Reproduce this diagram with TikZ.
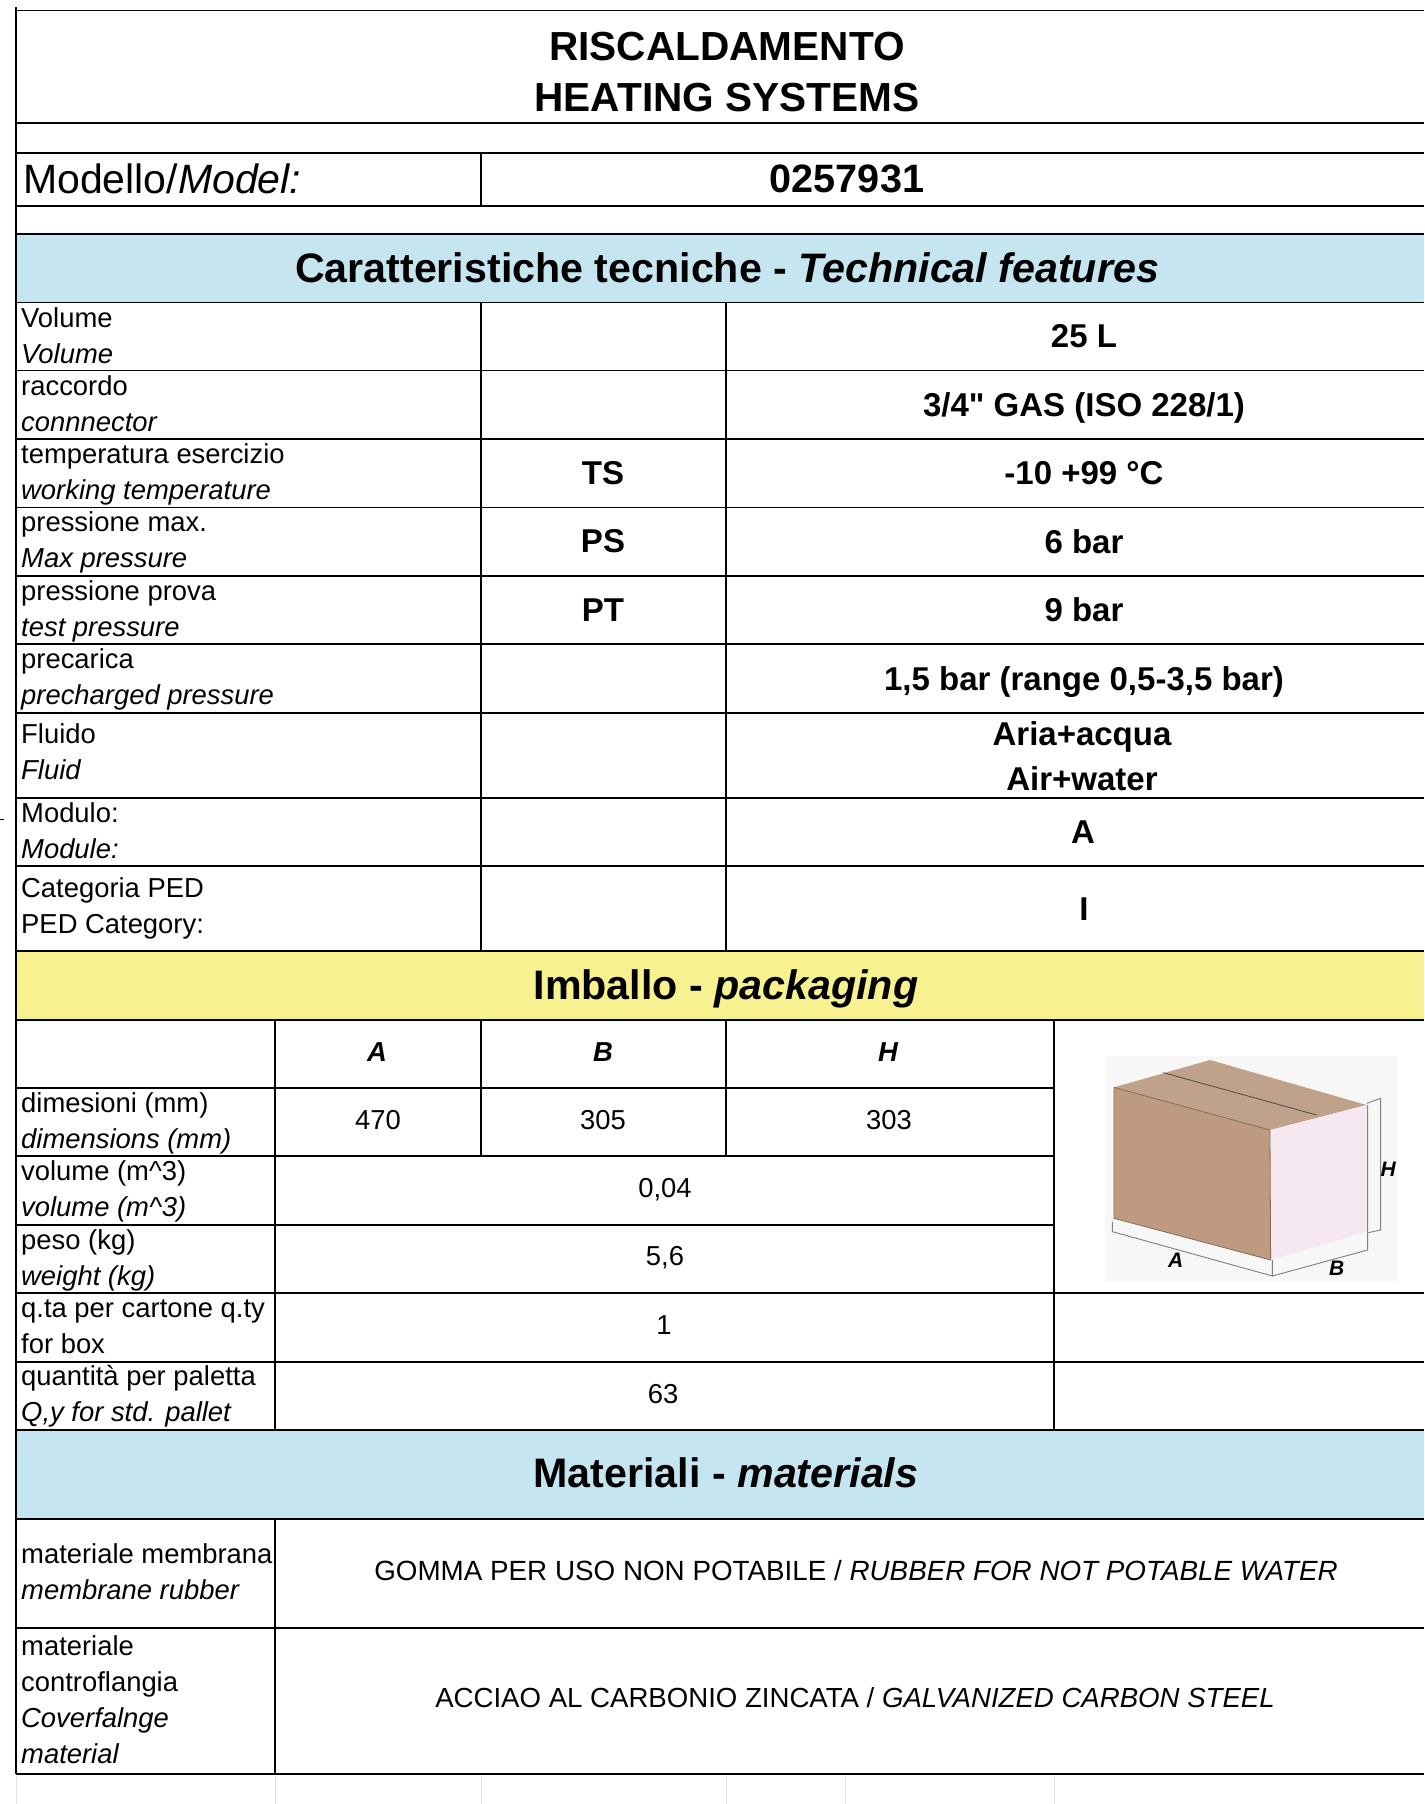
\documentclass[tikz,border=0pt]{standalone}
\usepackage{fontspec}
\setmainfont[Ligatures=TeXOff]{Liberation Sans}
\definecolor{headblue}{HTML}{C5E6F0}
\definecolor{headyellow}{HTML}{F7F18F}
\definecolor{boxfront}{HTML}{BD9A80}
\definecolor{boxtop}{HTML}{C0A28C}
\definecolor{boxside}{HTML}{F6E8F1}
\definecolor{boxback}{HTML}{F7F7F7}
\tikzset{
  rowlbl/.style={anchor=west,align=left,inner sep=0pt,font=\fontsize{27.4}{36}\selectfont},
  plainval/.style={anchor=center,align=center,inner sep=0pt,font=\fontsize{27.4}{36}\selectfont},
  wideval/.style={anchor=center,inner sep=0pt,font=\fontsize{27.8}{36}\selectfont},
  boldval/.style={anchor=center,align=center,inner sep=0pt,font=\bfseries\fontsize{33}{45}\selectfont},
  headval/.style={anchor=center,inner sep=0pt,font=\bfseries\itshape\fontsize{27.4}{36}\selectfont},
  sectitle/.style={anchor=center,inner sep=0pt,font=\bfseries\fontsize{41.2}{50}\selectfont},
  boxlbl/.style={anchor=center,inner sep=0pt,font=\bfseries\itshape\fontsize{21}{21}\selectfont},
  gridline/.style={line width=1.8pt,black},
  ghostline/.style={line width=1pt,black!12},
  dimline/.style={line width=0.9pt,black!50}
}
\begin{document}
\begin{tikzpicture}[x=1pt,y=-1pt]
            \useasboundingbox (0,0) rectangle (1424,1804);

            % coloured bands
            \fill[headblue] (16,235) rectangle (1424,302);
            \fill[headyellow] (16,951) rectangle (1424,1020);
            \fill[headblue] (16,1430) rectangle (1424,1519);

            % table rules
            \draw[gridline] (16,10.5) -- (1424,10.5)  (16,123) -- (1424,123)  (16,153) -- (1424,153)
            (16,206) -- (1424,206)  (16,234) -- (1424,234)  (16,302.5) -- (1424,302.5)
            (16,370.5) -- (1424,370.5)  (16,439) -- (1424,439)  (16,507.5) -- (1424,507.5)
            (16,576) -- (1424,576)  (16,644) -- (1424,644)  (16,713) -- (1424,713)
            (16,798) -- (1424,798)  (16,866) -- (1424,866)  (16,951) -- (1424,951)
            (16,1020) -- (1424,1020)  (16,1293) -- (1424,1293)  (16,1362) -- (1424,1362)
            (16,1430) -- (1424,1430)  (16,1519) -- (1424,1519)  (16,1628) -- (1424,1628)
            (16,1774) -- (1424,1774)
            (16,1088) -- (1054,1088)  (16,1156) -- (1054,1156)  (16,1225) -- (1054,1225);
            \draw[gridline] (16,7) -- (16,1774)  (481,153) -- (481,206)
            (481,302.5) -- (481,951)  (726,302.5) -- (726,951)
            (481,1020) -- (481,1156)  (726,1020) -- (726,1156)
            (275,1020) -- (275,1430)  (275,1519) -- (275,1774)  (1054,1020) -- (1054,1430);
            \draw[line width=0.8pt] (0,819) -- (4,819);
            \draw[ghostline] (16,1776) -- (16,1804)  (275,1776) -- (275,1804)  (481,1776) -- (481,1804)
            (726,1776) -- (726,1804)  (845,1776) -- (845,1804)  (1054,1776) -- (1054,1804);

            % heading
            \node (title) at (727,72) [sectitle,align=center,font=\bfseries\fontsize{40.6}{51.5}\selectfont] {RISCALDAMENTO\\HEATING SYSTEMS};
            \node (modelname) at (23,179) [anchor=west,inner sep=0pt,font=\fontsize{41}{50}\selectfont] {Modello/\textit{Model:}};
            \node (modelcode) at (847,179) [boldval,font=\bfseries\fontsize{39.6}{50}\selectfont] {0257931};
            \node (features) at (727,268) [sectitle] {Caratteristiche tecniche - \textit{Technical features}};

            % technical features
            \node (volume) at (21,335.5) [rowlbl] {Volume\\\textit{Volume}};
            \node (connector) at (21,404) [rowlbl] {raccordo\\\textit{connnector}};
            \node (worktemp) at (21,474) [rowlbl] {temperatura esercizio\\\textit{working temperature}};
            \node (maxpress) at (21,542.5) [rowlbl] {pressione max.\\\textit{Max pressure}};
            \node (testpress) at (21,611) [rowlbl] {pressione prova\\\textit{test pressure}};
            \node (precharge) at (21,679) [rowlbl] {precarica\\\textit{precharged pressure}};
            \node (fluid) at (21,752) [rowlbl] {Fluido\\\textit{Fluid}};
            \node (module) at (21,831) [rowlbl] {Modulo:\\\textit{Module:}};
            \node (pedcat) at (21,908) [rowlbl] {Categoria PED\\PED Category:};

            \node (tsmark) at (603,473) [boldval] {TS};
            \node (psmark) at (603,541.5) [boldval] {PS};
            \node (ptmark) at (603,610) [boldval] {PT};

            \node (volumeval) at (1084,336.5) [boldval] {25 L};
            \node (connectorval) at (1084,407.5) [boldval] {3/4" GAS (ISO 228/1)};
            \node (worktempval) at (1084,473) [boldval] {-10 +99 °C};
            \node (maxpressval) at (1084,542) [boldval] {6 bar};
            \node (testpressval) at (1084,610) [boldval] {9 bar};
            \node (prechargeval) at (1084,682.5) [boldval] {1,5 bar (range 0,5-3,5 bar)};
            \node (fluidval) at (1082,756) [boldval] {Aria+acqua\\Air+water};
            \node (moduleval) at (1083,832) [boldval] {A};
            \node (pedcatval) at (1084,909) [boldval] {I};

            % packaging
            \node (packaging) at (726,988.5) [sectitle] {Imballo - \textit{packaging}};
            \node (heada) at (377,1052) [headval] {A};
            \node (headb) at (603,1052) [headval] {B};
            \node (headh) at (888,1052) [headval] {H};
            \node (dims) at (21,1123) [rowlbl] {dimesioni (mm)\\\textit{dimensions (mm)}};
            \node (packvol) at (21,1191.5) [rowlbl] {volume (m\textasciicircum 3)\\\textit{volume (m\textasciicircum 3)}};
            \node (weight) at (21,1260) [rowlbl] {peso (kg)\\\textit{weight (kg)}};
            \node (perbox) at (21,1327) [rowlbl] {q.ta per cartone q.ty\\for box};
            \node (perpallet) at (21,1396.5) [rowlbl] {quantità per paletta\\\textit{Q,y for std. pallet}};
            \node (dima) at (378,1120) [plainval] {470};
            \node (dimb) at (603,1120) [plainval] {305};
            \node (dimh) at (889,1120) [plainval] {303};
            \node (packvolval) at (665,1189.5) [plainval] {0,04};
            \node (weightval) at (665,1258) [plainval] {5,6};
            \node (perboxval) at (664,1325) [plainval] {1};
            \node (perpalletval) at (663,1394) [plainval] {63};

            % carton sketch
            \begin{scope}[shift={(1060,1030)},x=0.3333pt,y=-0.3333pt]
                \fill[boxback] (135,78) rectangle (1012,755);
                \fill[boxfront] (162,172) -- (630,300) -- (632,690) -- (162,565) -- cycle;
                \fill[boxtop] (162,172) -- (450,90) -- (920,225) -- (630,300) -- cycle;
                \fill[boxside] (632,300) -- (920,225) -- (920,605) -- (632,690) -- cycle;
                \draw[line width=0.8pt,black!55!boxtop] (310,128) -- (770,255);
                \draw[line width=0.8pt,black!30!boxfront] (162,172) -- (630,300) -- (632,690) -- (162,565) -- cycle;
                \draw[dimline] (157,575) -- (157,605) -- (637,738) -- (637,690);
                \draw[dimline] (637,738) -- (923,660) -- (923,225);
                \draw[dimline] (920,220) -- (962,205) -- (962,600) -- (925,608);
                \node (cartona) at (347,692) [boxlbl] {A};
                \node (cartonb) at (830,715) [boxlbl] {B};
                \node (cartonh) at (985,418) [boxlbl] {H};
            \end{scope}

            % materials
            \node (materials) at (726,1473) [sectitle] {Materiali - \textit{materials}};
            \node (rubber) at (21,1572) [rowlbl] {materiale membrana\\\textit{membrane rubber}};
            \node (flange) at (21,1700) [rowlbl] {materiale\\controflangia\\\textit{Coverfalnge}\\\textit{material}};
            \node (rubberval) at (856,1571) [wideval] {GOMMA PER USO NON POTABILE / \textit{RUBBER FOR NOT POTABLE WATER}};
            \node (flangeval) at (855,1698) [wideval,font=\fontsize{27.6}{36}\selectfont] {ACCIAO AL CARBONIO ZINCATA / \textit{GALVANIZED CARBON STEEL}};

        \end{tikzpicture}
\end{document}
